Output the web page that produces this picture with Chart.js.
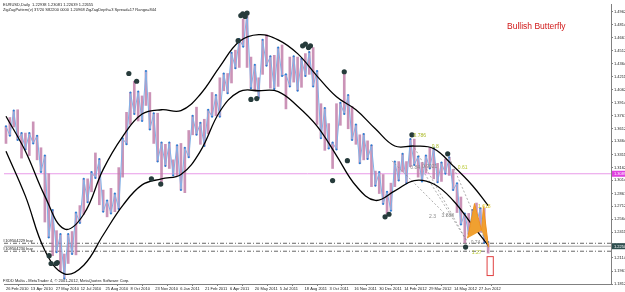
<!DOCTYPE html>
<html>
<head>
<meta charset="utf-8">
<script src="https://cdn.jsdelivr.net/npm/chart.js@4.4.1/dist/chart.umd.min.js"></script>
<style>
  html, body { margin: 0; padding: 0; background: #fff; }
  canvas { display: block; }
</style>
</head>
<body>
<canvas id="chart" width="625" height="292"></canvas>
<script>
// x unit = one trading week, week 0 = 26 Feb 2010 (32 daily bars between date labels)
const dateLabels = ['26 Feb 2010', '13 Apr 2010', '27 May 2010', '12 Jul 2010', '25 Aug 2010', '8 Oct 2010',
  '23 Nov 2010', '6 Jan 2011', '21 Feb 2011', '6 Apr 2011', '20 May 2011', '5 Jul 2011', '18 Aug 2011',
  '3 Oct 2011', '16 Nov 2011', '30 Dec 2011', '14 Feb 2012', '29 Mar 2012', '14 May 2012', '27 Jun 2012'];
const weeksPerLabel = 6.4;

const priceTicks = [1.49625, 1.48140, 1.46610, 1.45125, 1.43640, 1.42110, 1.40625, 1.39140, 1.37610, 1.36125,
  1.34640, 1.33110, 1.31625, 1.30140, 1.28610, 1.27125, 1.25640, 1.24110, 1.22625, 1.21140, 1.19610, 1.18125];

// weekly high / low of EURUSD
const weekHigh = [1.3640, 1.3740, 1.3820, 1.3830, 1.3560, 1.3560, 1.3560, 1.3690, 1.3530, 1.3390,
  1.3300, 1.3090, 1.2670, 1.2430, 1.2390, 1.2160, 1.2390, 1.2420, 1.2640, 1.2720,
  1.3030, 1.3030, 1.3110, 1.3330, 1.3260, 1.2900, 1.2780, 1.2920, 1.2860, 1.3160,
  1.3500, 1.3800, 1.4030, 1.4160, 1.4040, 1.3990, 1.4280, 1.4030, 1.3790, 1.3790,
  1.3450, 1.3430, 1.3450, 1.3250, 1.3420, 1.3440, 1.3390, 1.3590, 1.3760, 1.3860,
  1.3680, 1.3720, 1.3830, 1.4030, 1.4000, 1.4200, 1.4250, 1.4250, 1.4490, 1.4520,
  1.4650, 1.4880, 1.4940, 1.4440, 1.4350, 1.4200, 1.4640, 1.4700, 1.4450, 1.4460,
  1.4550, 1.4580, 1.4240, 1.4440, 1.4450, 1.4440, 1.4420, 1.4480, 1.4500, 1.4550,
  1.4280, 1.3900, 1.3850, 1.3670, 1.3450, 1.3900, 1.3910, 1.4250, 1.4000, 1.3870,
  1.3660, 1.3540, 1.3550, 1.3470, 1.3420, 1.3120, 1.3110, 1.3080, 1.2880, 1.2980,
  1.3230, 1.3230, 1.3320, 1.3230, 1.3490, 1.3490, 1.3290, 1.3220, 1.3300, 1.3390,
  1.3390, 1.3210, 1.3220, 1.3260, 1.3280, 1.3140, 1.2980, 1.2820, 1.2630, 1.2630,
  1.2670, 1.2750, 1.2690, 1.2690, 1.2300];
const weekLow = [1.3440, 1.3530, 1.3630, 1.3480, 1.3270, 1.3370, 1.3300, 1.3440, 1.3250, 1.3110,
  1.2530, 1.2350, 1.2140, 1.2180, 1.1960, 1.1876, 1.2050, 1.2160, 1.2150, 1.2520,
  1.2620, 1.2760, 1.2880, 1.3040, 1.2730, 1.2650, 1.2590, 1.2630, 1.2650, 1.2680,
  1.3050, 1.3430, 1.3660, 1.3780, 1.3700, 1.3700, 1.3880, 1.3600, 1.3440, 1.3230,
  1.2970, 1.3180, 1.3150, 1.3070, 1.3070, 1.2900, 1.2870, 1.3280, 1.3540, 1.3540,
  1.3430, 1.3410, 1.3550, 1.3750, 1.3760, 1.3750, 1.4050, 1.4020, 1.4140, 1.4310,
  1.4320, 1.4560, 1.4320, 1.4080, 1.4050, 1.3970, 1.4240, 1.4340, 1.4080, 1.4070,
  1.4100, 1.4220, 1.3840, 1.4100, 1.4150, 1.4050, 1.4090, 1.4220, 1.4240, 1.4100,
  1.3660, 1.3500, 1.3360, 1.3380, 1.3150, 1.3370, 1.3650, 1.3780, 1.3610, 1.3480,
  1.3430, 1.3210, 1.3250, 1.3260, 1.2940, 1.2950, 1.2860, 1.2740, 1.2620, 1.2660,
  1.2940, 1.3010, 1.3110, 1.2980, 1.3170, 1.3190, 1.3050, 1.3000, 1.3100, 1.3150,
  1.3030, 1.2990, 1.3000, 1.3090, 1.3070, 1.2900, 1.2640, 1.2500, 1.2290, 1.2390,
  1.2440, 1.2520, 1.2410, 1.2290, 1.2170];

// smoothed envelope (black curves)
const envWeeks = [0, 5, 10, 15, 20, 25, 30, 35, 40, 45, 50, 55, 60, 65, 70, 75, 80, 85, 90, 95, 100, 105, 110, 115, 120, 124];
const envUpper = [1.3755, 1.3350, 1.2830, 1.2450, 1.2620, 1.3140, 1.3520, 1.3780, 1.3830, 1.3820, 1.4010, 1.4330, 1.4620,
  1.4700, 1.4640, 1.4480, 1.4220, 1.3980, 1.3830, 1.3610, 1.3410, 1.3410, 1.3380, 1.3180, 1.2950, 1.2720];
const envLower = [1.3350, 1.2830, 1.2200, 1.1930, 1.2030, 1.2380, 1.2720, 1.2960, 1.3030, 1.3080, 1.3350, 1.3810, 1.4040,
  1.4050, 1.4040, 1.3870, 1.3640, 1.3300, 1.2950, 1.2780, 1.2890, 1.3010, 1.2970, 1.2780, 1.2490, 1.2260];

// pivot markers
const dotWeeks = [60.4, 60.9, 61.5, 62.0, 59.7, 63.0, 64.5, 76.3, 77.0, 77.8, 78.3, 87.0, 104.4, 113.6, 97.5, 98.5,
  118.2, 11.1, 11.6, 12.9, 13.2, 31.6, 33.6, 37.4, 39.8, 84.0, 87.8];
const dotPrices = [1.4920, 1.4940, 1.4910, 1.4950, 1.4630, 1.3950, 1.3960, 1.4570, 1.4590, 1.4550, 1.4570, 1.4270,
  1.3540, 1.3320, 1.2590, 1.2620, 1.2240, 1.2140, 1.2050, 1.2050, 1.2060, 1.4250, 1.4160, 1.3030, 1.2970, 1.3010, 1.3240];

// harmonic pattern X A B C D
const bflyWeeks = [118.7, 120.5, 122.3, 122.8, 124.1];
const bflyPrices = [1.2342, 1.2744, 1.2433, 1.2709, 1.2238];

// dotted projection lines of the earlier pattern: [week1, price1, week2, price2]
const projLines = [
  [105.1, 1.3388, 118.4, 1.2319],
  [107.7, 1.3089, 118.4, 1.2319],
  [99.3, 1.3238, 113.8, 1.2583],
  [113.6, 1.3319, 124.0, 1.2238]
];

const pinkLevel = 1.3089;
const bidLevel = 1.2250;
const orderLevels = [1.2284, 1.2192];

const xMin = -0.51, xMax = 155.6;
const pts = (xs, ys) => xs.map((x, i) => ({ x: x, y: ys[i] }));
const hline = (v) => [{ x: xMin, y: v }, { x: xMax, y: v }];

const overlay = {
  id: 'overlay',
  afterDatasetsDraw(chart) {
    const { ctx, scales: { x, y }, chartArea } = chart;
    ctx.save();
    ctx.font = '4px "Liberation Sans", Arial';
    ctx.fillStyle = '#222';
    ctx.textBaseline = 'alphabetic';
    ctx.fillText('EURUSD,Daily  1.22938 1.23081 1.22639 1.22655', 3, 6);
    ctx.fillText('ZigZagPattern(v) 37/20 S82200 0000 1.20968 ZigZagDepth=3 Spread=17 Range=844', 3, 11);
    ctx.fillText('FXDD Malta - MetaTrader 4, \u00a9 2001-2012, MetaQuotes Software Corp.', 3, 282);
    ctx.fillText('#109504229 buy', 3, y.getPixelForValue(orderLevels[0]) - 1);
    ctx.fillText('#109504230 buy', 3, y.getPixelForValue(orderLevels[1]) - 1);

    ctx.font = '8.5px "Liberation Sans", Arial';
    ctx.fillStyle = '#d01818';
    ctx.fillText('Bullish Butterfly', 507, 29);

    // ratio labels of the pattern
    ctx.font = '5px "Liberation Sans", Arial';
    const labels = [
      ['0.786', 104.8, 1.3520, '#a8b820'], ['0.8', 109.5, 1.3390, '#a8b820'],
      ['0.84', 104.0, 1.3140, '#888'], ['0.9021', 107.0, 1.3160, '#888'],
      ['0.61', 116.2, 1.3140, '#b8c830'], ['2.3', 108.8, 1.2580, '#888'], ['3.888', 112.0, 1.2590, '#888'],
      ['1.618', 121.4, 1.2690, '#d8c020'], ['0.74', 119.5, 1.2280, '#888'], ['1.27', 119.8, 1.2160, '#b8c830']
    ];
    labels.forEach(([t, wx, py, c]) => {
      ctx.fillStyle = c;
      ctx.fillText(t, x.getPixelForValue(wx), y.getPixelForValue(py));
    });

    // projection box after D
    const bx = x.getPixelForValue(123.6), bx2 = x.getPixelForValue(125.2);
    const by = y.getPixelForValue(1.2135), by2 = y.getPixelForValue(1.1916);
    ctx.strokeStyle = '#e04040';
    ctx.lineWidth = 1;
    ctx.strokeRect(bx + 0.5, by + 0.5, bx2 - bx, by2 - by);

    // price highlights on the axis
    const tag = (v, bg, txt) => {
      const py = y.getPixelForValue(v);
      ctx.fillStyle = bg;
      ctx.fillRect(chartArea.right + 1, py - 3, 14, 6);
      ctx.fillStyle = '#fff';
      ctx.font = '4px "Liberation Sans", Arial';
      ctx.fillText(txt, chartArea.right + 3, py + 1.5);
    };
    tag(pinkLevel, '#e040e0', pinkLevel.toFixed(5));
    tag(bidLevel, '#2f4f4f', bidLevel.toFixed(5));
    ctx.restore();
  }
};

const projSets = projLines.map(([w1, p1, w2, p2]) => ({
  type: 'line', data: [{ x: w1, y: p1 }, { x: w2, y: p2 }], borderColor: '#8a8a8a',
  borderWidth: 0.7, borderDash: [2, 2], pointRadius: 0, order: 6
}));

new Chart(document.getElementById('chart'), {
  type: 'bar',
  data: {
    datasets: [
      { type: 'line', data: hline(pinkLevel), borderColor: '#e89ae8', borderWidth: 1, pointRadius: 0, order: 9 },
      { type: 'line', data: hline(bidLevel), borderColor: '#a0a0a0', borderWidth: 1, pointRadius: 0, order: 9 },
      { type: 'line', data: hline(orderLevels[0]), borderColor: '#404040', borderWidth: 0.8, borderDash: [4, 2, 1, 2], pointRadius: 0, order: 9 },
      { type: 'line', data: hline(orderLevels[1]), borderColor: '#404040', borderWidth: 0.8, borderDash: [4, 2, 1, 2], pointRadius: 0, order: 9 },
      {
        data: weekHigh.map((h, i) => ({ x: i, y: [weekLow[i], h] })),
        backgroundColor: 'rgba(190,120,165,0.8)', barThickness: 2, order: 8
      },
      {
        type: 'line', data: weekHigh.map((h, i) => ({ x: i, y: i % 2 ? weekLow[i] : h })),
        borderColor: '#80b2e8', borderWidth: 1, pointRadius: 1, pointBackgroundColor: '#2a7fd4',
        pointBorderWidth: 0, order: 7
      },
      ...projSets,
      { type: 'line', data: pts(envWeeks, envUpper), borderColor: '#000', borderWidth: 1.3, tension: 0.4, pointRadius: 0, order: 5 },
      { type: 'line', data: pts(envWeeks, envLower), borderColor: '#000', borderWidth: 1.3, tension: 0.4, pointRadius: 0, order: 5 },
      {
        type: 'line', data: pts(bflyWeeks.slice(0, 3), bflyPrices.slice(0, 3)), borderColor: '#f09020',
        backgroundColor: '#f0a030', borderWidth: 1, fill: 'shape', pointRadius: 0, order: 4
      },
      {
        type: 'line', data: pts(bflyWeeks.slice(2), bflyPrices.slice(2)), borderColor: '#f09020',
        backgroundColor: '#f0a030', borderWidth: 1, fill: 'shape', pointRadius: 0, order: 4
      },
      {
        type: 'line', data: pts(dotWeeks, dotPrices), showLine: false, pointRadius: 2.6,
        pointBackgroundColor: '#263b3b', pointBorderWidth: 0, order: 3
      }
    ]
  },
  options: {
    responsive: false,
    animation: false,
    devicePixelRatio: 1,
    layout: { padding: { top: 2, left: 0, right: 0, bottom: 0 } },
    plugins: { legend: { display: false }, tooltip: { enabled: false } },
    scales: {
      x: {
        type: 'linear', min: xMin, max: xMax, offset: false,
        afterBuildTicks: (s) => { s.ticks = dateLabels.map((_, k) => ({ value: k * weeksPerLabel })); },
        afterFit: (s) => { s.height = 8; },
        grid: { display: true, drawOnChartArea: false, tickLength: 2, color: '#808080' },
        border: { color: '#808080' },
        ticks: {
          autoSkip: false, maxRotation: 0, minRotation: 0, align: 'start', padding: 0,
          color: '#222', font: { size: 4, family: '"Liberation Sans", Arial' },
          callback: (v, i) => dateLabels[i]
        }
      },
      y: {
        position: 'right', min: 1.18125, max: 1.50545,
        afterBuildTicks: (s) => { s.ticks = priceTicks.map(v => ({ value: v })); },
        afterFit: (s) => { s.width = 14; },
        grid: { display: true, drawOnChartArea: false, tickLength: 2, color: '#808080' },
        border: { color: '#808080' },
        ticks: {
          autoSkip: false, padding: 1, color: '#222', font: { size: 4, family: '"Liberation Sans", Arial' },
          callback: (v) => v.toFixed(5)
        }
      }
    }
  },
  plugins: [overlay]
});
</script>
</body>
</html>
